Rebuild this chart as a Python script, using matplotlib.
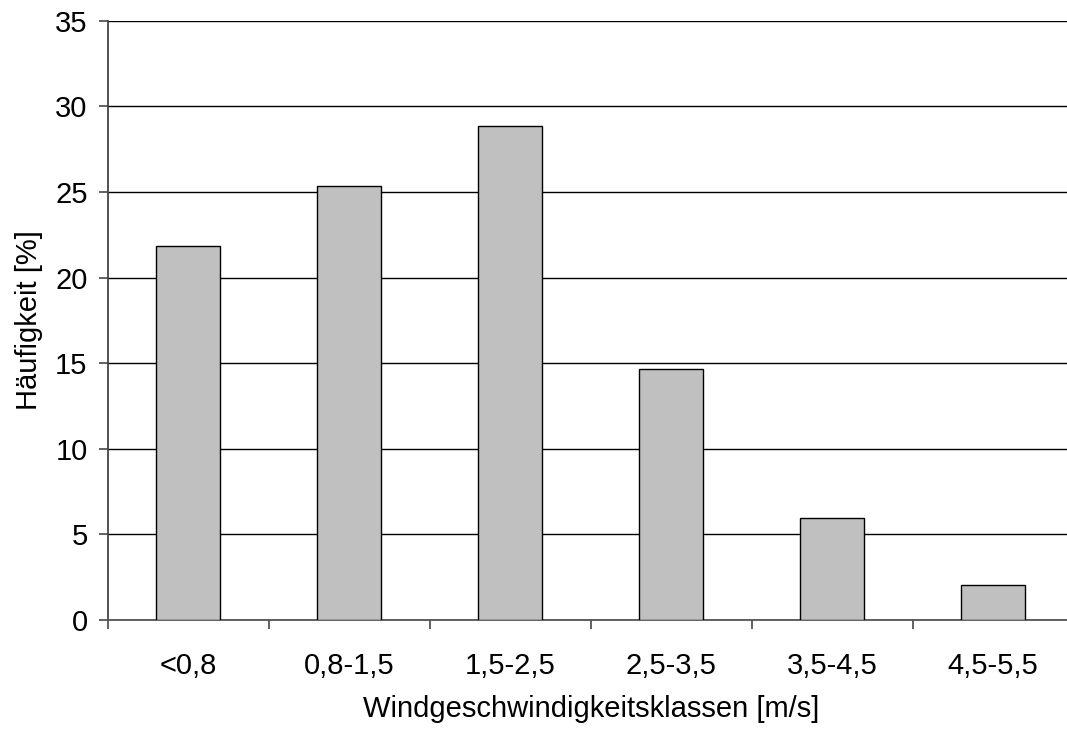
import numpy as np
import matplotlib.pyplot as plt
from matplotlib.ticker import FixedLocator

plt.rcParams['font.family'] = ['Liberation Sans', 'DejaVu Sans']

# Windgeschwindigkeitsklassen und Häufigkeiten
classes = ['<0,8', '0,8-1,5', '1,5-2,5', '2,5-3,5', '3,5-4,5', '4,5-5,5']
freq = [21.85, 25.35, 28.85, 14.65, 5.95, 2.05]
yticks = [0, 5, 10, 15, 20, 25, 30, 35]


def main():
    fig = plt.figure(figsize=(10.67, 7.31), dpi=100)
    ax = fig.add_axes([107.7 / 1067, 111 / 731, 966 / 1067, 599.3 / 731])

    x = np.arange(len(classes))
    ax.bar(x, freq, width=0.4, color='#c0c0c0', edgecolor='black',
           linewidth=1.0, zorder=3)

    ax.set_xlim(-0.5, len(classes) - 0.5)
    ax.set_ylim(0, 35)

    # grid lines
    ax.set_yticks(yticks)
    ax.yaxis.grid(True, color='black', linewidth=1.0, zorder=0)
    ax.set_axisbelow(True)

    # category labels in the middle, tick marks at the boundaries
    ax.set_xticks(x)
    ax.set_xticklabels(classes)
    ax.xaxis.set_minor_locator(FixedLocator(np.arange(-0.5, len(classes), 1.0)))
    ax.tick_params(axis='x', which='major', length=0, pad=23, labelsize=21)
    ax.tick_params(axis='x', which='minor', length=6.5, width=1.3, color='#555555')
    ax.tick_params(axis='y', length=6.5, width=1.3, color='#555555', pad=8,
                   labelsize=21)

    for side in ['top', 'right']:
        ax.spines[side].set_visible(False)
    ax.spines['left'].set_color('#444444')
    ax.spines['left'].set_linewidth(1.3)
    ax.spines['bottom'].set_color('#555555')
    ax.spines['bottom'].set_linewidth(1.3)

    ax.set_xlabel('Windgeschwindigkeitsklassen [m/s]', fontsize=21, labelpad=11)
    ax.set_ylabel('Häufigkeit [%]', fontsize=21, labelpad=9)

    fig.savefig('out.png', dpi=100)


if __name__ == "__main__":
    main()
